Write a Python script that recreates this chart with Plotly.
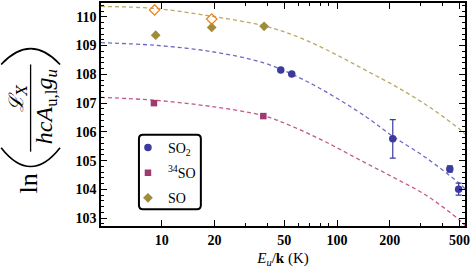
import plotly.graph_objects as go
import math

# ---------------- data ----------------
# model curves
so_model_E = [4.5, 9.16, 18.8, 38.2, 61.2, 94.9, 146.9, 227, 351, 499, 540]
so_model_y = [110.36, 110.29, 110.03, 109.69, 109.28, 108.74, 108.13, 107.51, 106.79, 106.10, 105.91]

so2_model_E = [4.5, 9.16, 18.8, 38.2, 61.2, 94.9, 146.9, 208, 322, 499, 540]
so2_model_y = [109.10, 109.01, 108.80, 108.40, 107.88, 107.25, 106.52, 105.85, 105.10, 104.21, 104.01]

s34o_model_E = [4.5, 9.16, 18.8, 38.2, 56.1, 86.9, 134.5, 208, 322, 499, 540]
s34o_model_y = [107.20, 107.10, 106.89, 106.56, 106.18, 105.64, 105.03, 104.43, 103.80, 102.94, 102.74]

# observed points
so2_E = [47.8, 55.2, 208, 440, 494]
so2_y = [108.15, 108.01, 105.76, 104.71, 104.01]
so2_err = [0.0, 0.0, 0.67, 0.11, 0.21]

s34o_E = [9.04, 38.0]
s34o_y = [107.00, 106.55]

so_E = [9.25, 19.3, 38.4]
so_y = [109.36, 109.63, 109.67]

so_open_E = [9.12, 19.3]
so_open_y = [110.24, 109.92]

x_tickvals = [10, 20, 50, 100, 200, 500]
x_minor = [30, 40, 60, 70, 80, 90, 300, 400]
y_tickvals = [103, 104, 105, 106, 107, 108, 109, 110]

# ---------------- styling ----------------
W, H = 472, 272
PL, PR, PT, PB = 101, 465.5, 1, 226

def fx(px):
    return (px - PL) / (PR - PL)

def fy(py):
    return (PB - py) / (PB - PT)

BLUE = "#3b3b9f"
BLUE_L = "#6b6bc4"
PINK = "#9e3a70"
PINK_L = "#c4558f"
OLIVE = "#9e8c3a"
OLIVE_L = "#b9a862"
ORANGE = "#f07f1a"
SERIF = "Liberation Serif, DejaVu Serif, serif"

fig = go.Figure()

dash = "4px,3px"
fig.add_trace(go.Scatter(x=so_model_E, y=so_model_y, mode="lines", line=dict(color=OLIVE_L, width=1.3, dash=dash, shape="spline"), showlegend=False, hoverinfo="skip"))
fig.add_trace(go.Scatter(x=so2_model_E, y=so2_model_y, mode="lines", line=dict(color=BLUE_L, width=1.3, dash=dash, shape="spline"), showlegend=False, hoverinfo="skip"))
fig.add_trace(go.Scatter(x=s34o_model_E, y=s34o_model_y, mode="lines", line=dict(color=PINK_L, width=1.3, dash=dash, shape="spline"), showlegend=False, hoverinfo="skip"))

fig.add_trace(go.Scatter(x=so2_E, y=so2_y, mode="markers", name="SO<sub>2</sub>", legendgroup="a",
                         marker=dict(symbol="circle", size=7.5, color=BLUE),
                         error_y=dict(type="data", array=so2_err, color=BLUE, thickness=1.2, width=3)))
fig.add_trace(go.Scatter(x=s34o_E, y=s34o_y, mode="markers", name="<sup>34</sup>SO", legendgroup="b",
                         marker=dict(symbol="square", size=6.5, color=PINK)))
fig.add_trace(go.Scatter(x=so_E, y=so_y, mode="markers", name="SO", legendgroup="c",
                         marker=dict(symbol="diamond", size=7.5, color=OLIVE)))
fig.add_trace(go.Scatter(x=so_open_E, y=so_open_y, mode="markers", showlegend=False,
                         marker=dict(symbol="diamond-open", size=8, color=ORANGE, line=dict(width=1.3, color=ORANGE))))

axis_common = dict(showline=True, linecolor="black", linewidth=1.5, mirror="ticks",
                   ticks="inside", tickcolor="black", tickwidth=1, ticklen=6,
                   showgrid=False, zeroline=False)

fig.update_xaxes(type="log", range=[math.log10(4.51), math.log10(537)],
                 tickvals=x_tickvals, ticktext=[str(v) for v in x_tickvals],
                 tickfont=dict(family=SERIF, size=14, color="black", weight="bold"),
                 minor=dict(ticks="inside", tickvals=x_minor, ticklen=3.5, tickcolor="black", tickwidth=1),
                 title=dict(text="<i>E</i><sub><i>u</i></sub>/<b>k</b> (K)", font=dict(family=SERIF, size=15, color="black"), standoff=6),
                 **axis_common)
fig.update_yaxes(range=[102.73, 110.48], tickvals=y_tickvals,
                 tickfont=dict(family=SERIF, size=14, color="black", weight="bold"),
                 minor=dict(ticks="inside", dtick=0.2, ticklen=3.5, tickcolor="black", tickwidth=1),
                 **axis_common)

# y-axis title built from rotated pieces
ann = []
ann.append(dict(text="ln", x=fx(28), y=fy(183), textangle=-90, font=dict(family=SERIF, size=26, color="black")))
ann.append(dict(text="<i>ℒ</i><sub><i>X</i></sub>", x=fx(17), y=fy(97), textangle=-90, font=dict(family="DejaVu Serif, serif", size=20, color="black")))
ann.append(dict(text="<i>hcA</i><sub>u,l</sub><i>g</i><sub><i>u</i></sub>", x=fx(46), y=fy(106), textangle=-90, font=dict(family=SERIF, size=24, color="black")))
for a in ann:
    a.update(xref="paper", yref="paper", showarrow=False, xanchor="center", yanchor="middle")

shapes = []
# fraction bar
shapes.append(dict(type="line", xref="paper", yref="paper", x0=fx(30.5), x1=fx(30.5), y0=fy(63), y1=fy(151), line=dict(color="black", width=1.3)))
# big parentheses (rotated)
def arc(x0, x1, yend, yapex):
    cy = 2 * yapex - yend
    return "M {} {} Q {} {} {} {}".format(fx(x0), fy(yend), fx((x0 + x1) / 2), fy(cy), fx(x1), fy(yend))
shapes.append(dict(type="path", xref="paper", yref="paper", path=arc(1, 60, 63, 47), line=dict(color="black", width=1.6)))
shapes.append(dict(type="path", xref="paper", yref="paper", path=arc(1, 60, 147, 166), line=dict(color="black", width=1.6)))

# rounded legend box
lx0, lx1, ly0, ly1, r = 139, 201, 134, 209, 4
p = ("M {a} {b} L {c} {b} Q {d} {b} {d} {e} L {d} {f} Q {d} {g} {c} {g} L {a} {g} Q {h} {g} {h} {f} L {h} {e} Q {h} {b} {a} {b} Z").format(
    a=fx(lx0 + r), b=fy(ly0), c=fx(lx1 - r), d=fx(lx1), e=fy(ly0 + r), f=fy(ly1 - r), g=fy(ly1), h=fx(lx0))
shapes.append(dict(type="path", xref="paper", yref="paper", path=p, line=dict(color="black", width=2), fillcolor="white", layer="below"))

fig.update_layout(
    width=W, height=H,
    margin=dict(l=PL, r=W - PR, t=PT, b=H - PB, pad=0),
    paper_bgcolor="white", plot_bgcolor="white",
    annotations=ann, shapes=shapes,
    legend=dict(x=fx(128), y=fy(131), xanchor="left", yanchor="top",
                bgcolor="rgba(0,0,0,0)", borderwidth=0, tracegroupgap=4,
                font=dict(family=SERIF, size=14, color="black")),
    font=dict(family=SERIF, color="black"),
)

fig.write_html("out.html", config={"displayModeBar": False},
               post_script="document.body.style.margin='0';document.body.style.overflow='hidden';")
